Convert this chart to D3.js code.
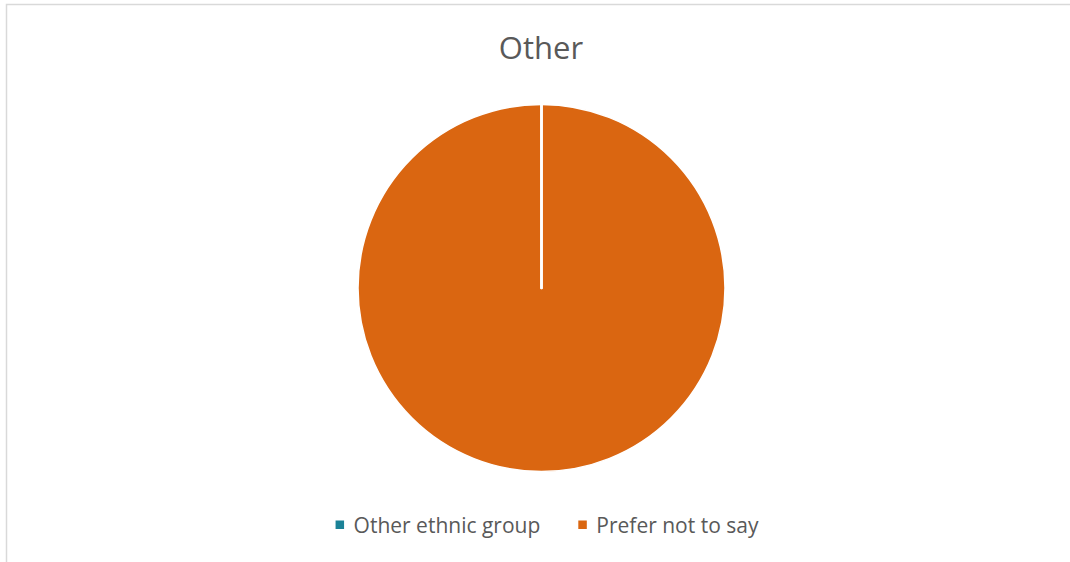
<!DOCTYPE html>
<html>
<head>
<meta charset="utf-8">
<script src="https://cdn.jsdelivr.net/npm/d3@7"></script>
<style>
  html, body { margin: 0; padding: 0; background: #fff; }
  svg { display: block; }
</style>
</head>
<body>
<svg id="chart" width="1070" height="562"></svg>
<script>
// Chart content
const title = "Other";
const categories = ["Other ethnic group", "Prefer not to say"];
const values = [0, 100];
const colors = ["#1b8297", "#da6611"];

const W = 1070, H = 562;
const svg = d3.select("#chart");

// chart area frame (continues past the right and bottom edges)
svg.append("rect")
  .attr("x", 6.5).attr("y", 4.5)
  .attr("width", W + 20).attr("height", H + 20)
  .attr("fill", "#fff")
  .attr("stroke", "#d9d9d9")
  .attr("stroke-width", 1.5);

// title
svg.append("text")
  .attr("x", 541).attr("y", 59)
  .attr("text-anchor", "middle")
  .attr("font-family", "'Open Sans', sans-serif")
  .attr("font-size", 31)
  .attr("fill", "#595959")
  .text(title);

// pie
const cx = 541.5, cy = 288, r = 183.5;
const color = d3.scaleOrdinal().domain(categories).range(colors);
const pie = d3.pie().sort(null).value(d => d.value);
const arcs = pie(categories.map((c, i) => ({ name: c, value: values[i] })));
const arc = d3.arc().innerRadius(0).outerRadius(r);

const g = svg.append("g").attr("transform", `translate(${cx},${cy})`);
g.selectAll("path.slice")
  .data(arcs.filter(d => d.endAngle > d.startAngle))
  .join("path")
  .attr("class", "slice")
  .attr("d", arc)
  .attr("fill", d => color(d.data.name))
  .attr("stroke", "#fff")
  .attr("stroke-width", 1.5);

// slice borders: white radial edge at each slice's starting angle
g.selectAll("line.edge")
  .data(arcs)
  .join("line")
  .attr("class", "edge")
  .attr("x1", 0).attr("y1", 0)
  .attr("x2", d => r * Math.sin(d.startAngle))
  .attr("y2", d => -r * Math.cos(d.startAngle))
  .attr("stroke", "#fff")
  .attr("stroke-width", 2.6)
  .attr("stroke-linecap", "round");

// legend
const legend = svg.append("g");
const items = legend.selectAll("g.item")
  .data(categories)
  .join("g")
  .attr("class", "item");
items.append("rect")
  .attr("x", 0).attr("y", -4.5)
  .attr("width", 8.5).attr("height", 8.5)
  .attr("fill", d => color(d));
items.append("text")
  .attr("x", 18).attr("y", 7.5)
  .attr("font-family", "'Open Sans', sans-serif")
  .attr("font-size", 21)
  .attr("fill", "#595959")
  .text(d => d);

let xPos = 0;
const gap = 38;
items.each(function () {
  const t = d3.select(this).select("text").node().getComputedTextLength();
  d3.select(this).attr("transform", `translate(${xPos},0)`);
  xPos += 18 + t + gap;
});
const totalW = xPos - gap;
legend.attr("transform", `translate(${547 - totalW / 2},525)`);
</script>
</body>
</html>
